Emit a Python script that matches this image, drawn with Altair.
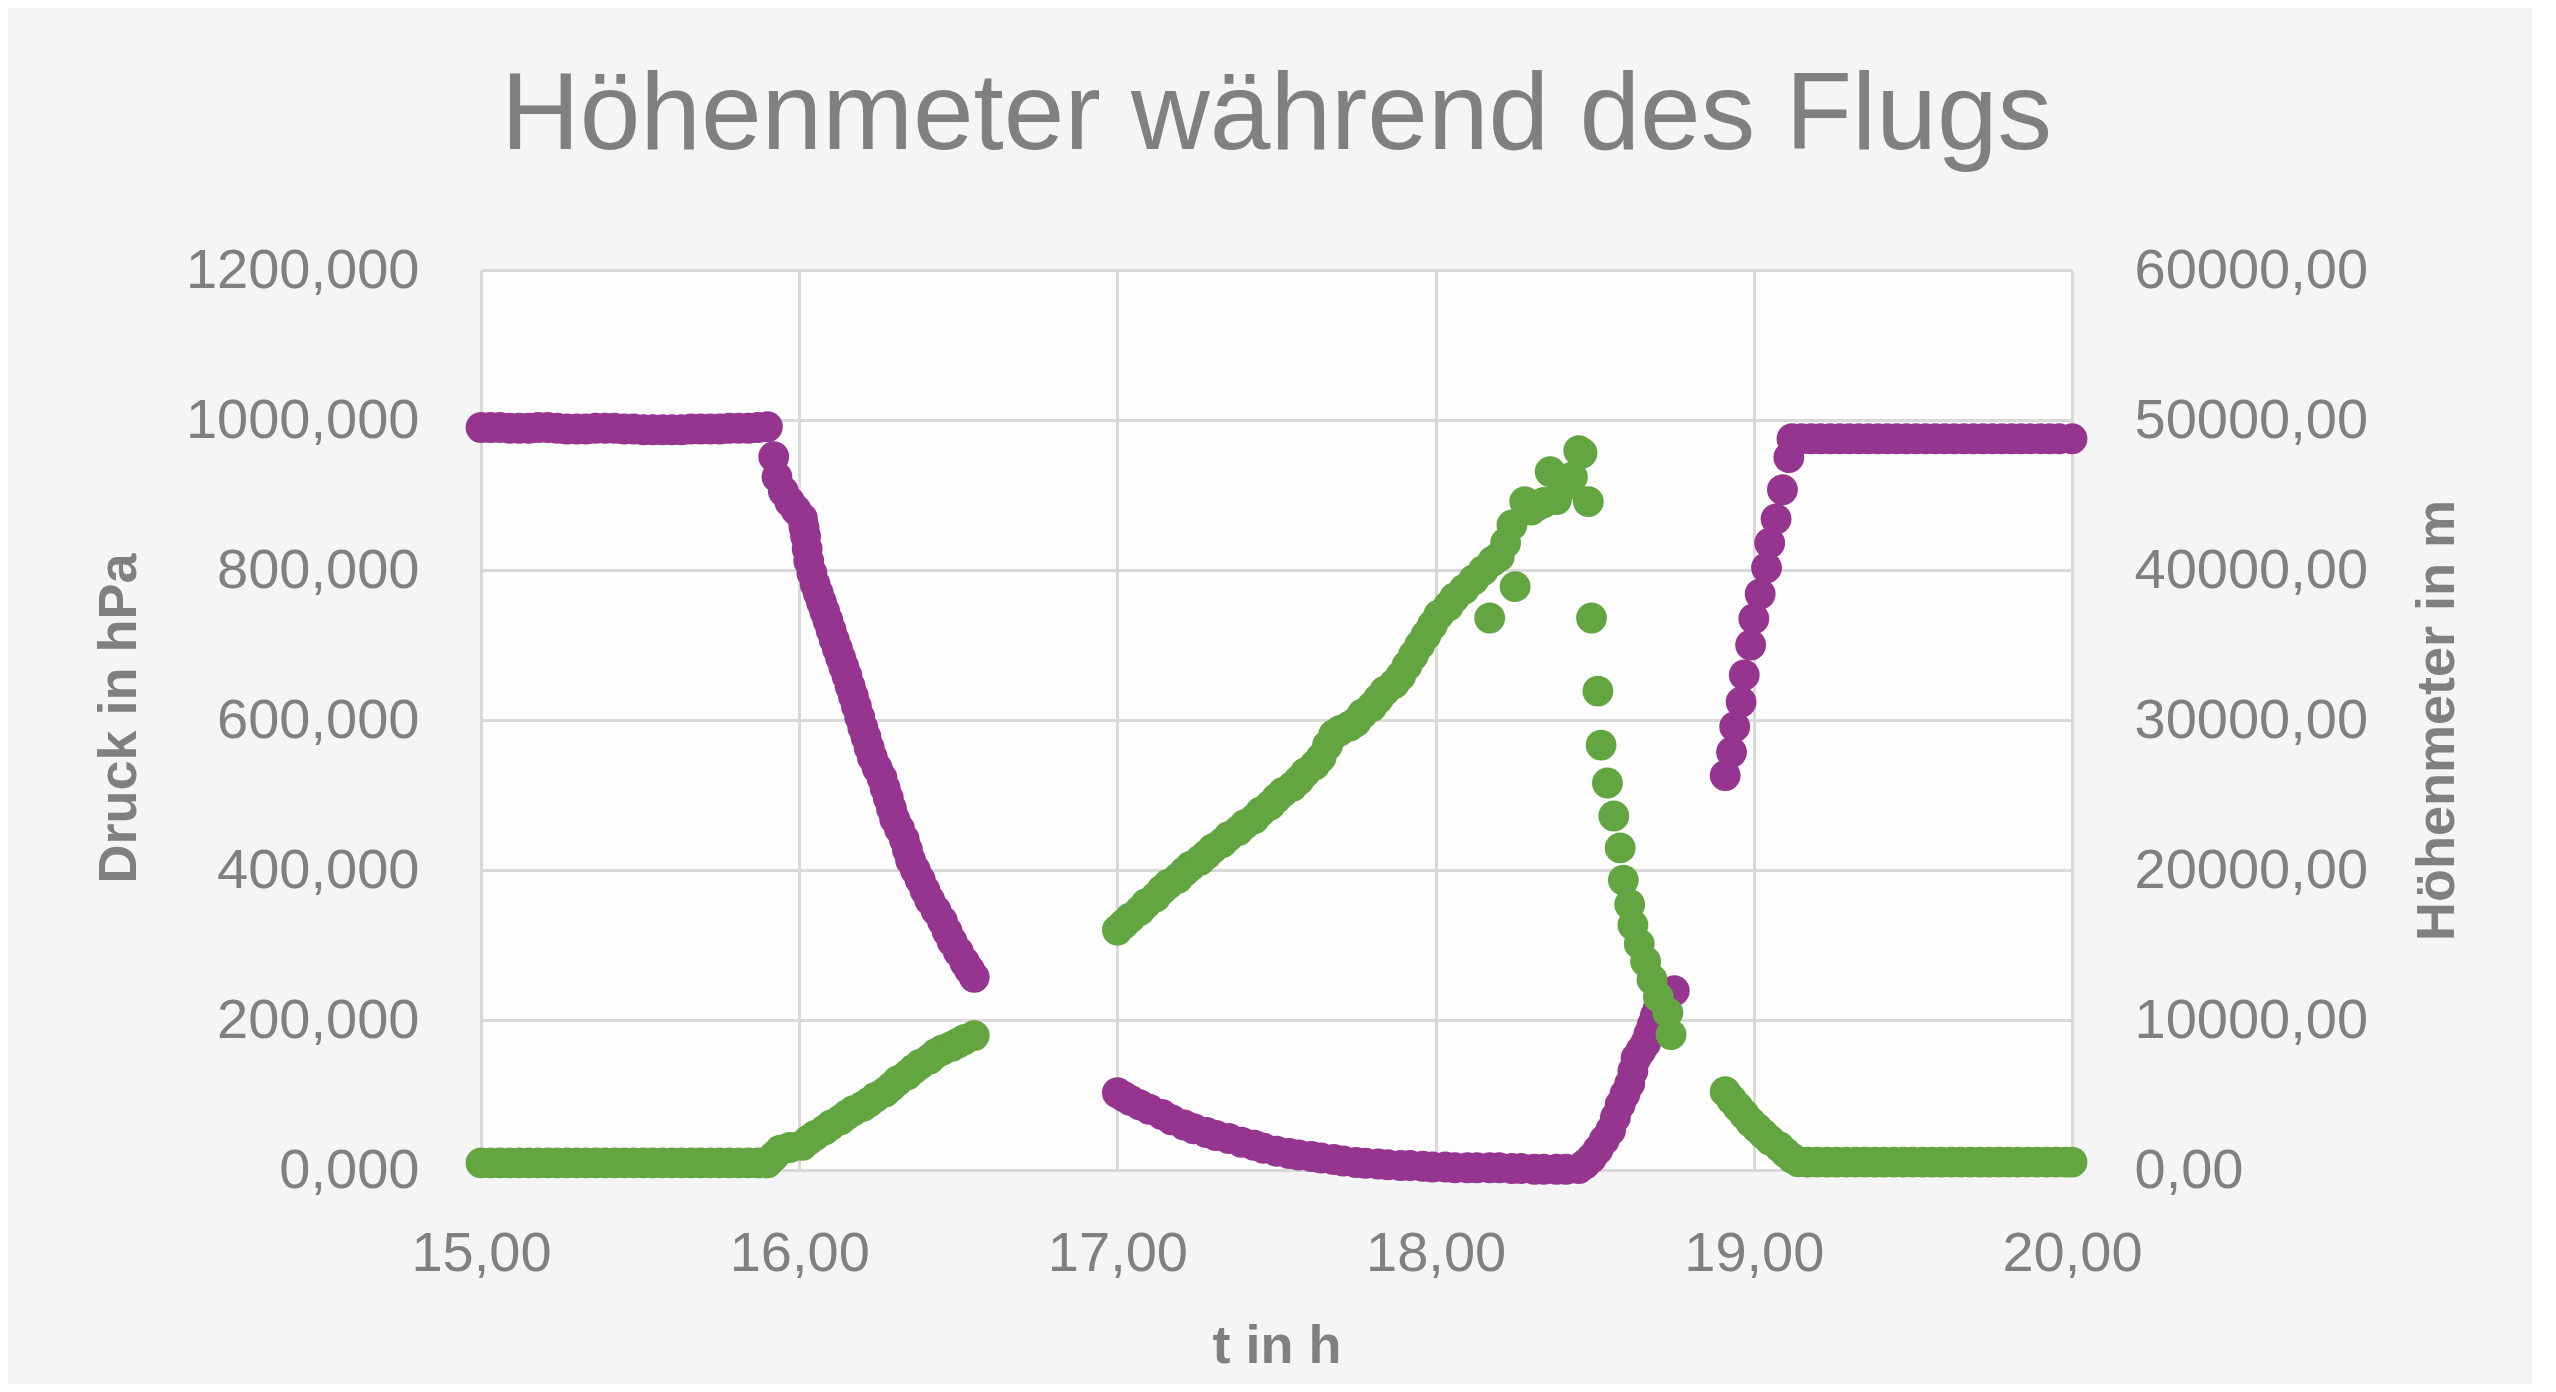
import altair as alt
import pandas as pd

# Druck (hPa) über der Zeit t (h)
druck = [
    (15.00, 990), (15.03, 990), (15.06, 990), (15.09, 989), (15.12, 989), (15.15, 989),
    (15.18, 990), (15.21, 990), (15.24, 989), (15.27, 988), (15.30, 988), (15.33, 988),
    (15.36, 989), (15.39, 989), (15.42, 989), (15.45, 988), (15.48, 988), (15.51, 987),
    (15.54, 987), (15.57, 987), (15.60, 987), (15.63, 987), (15.66, 988), (15.69, 988),
    (15.72, 988), (15.75, 988), (15.78, 989), (15.81, 989), (15.84, 989), (15.87, 990),
    (15.90, 991),
    (15.92, 951), (15.93, 924), (15.95, 905), (15.97, 891), (15.99, 880), (16.01, 869),
    (16.015, 857), (16.02, 845), (16.025, 828), (16.03, 812), (16.04, 796), (16.05, 781),
    (16.06, 769), (16.07, 757),
    (16.08, 745), (16.09, 733), (16.10, 720), (16.11, 707), (16.12, 695), (16.13, 683),
    (16.14, 671), (16.15, 659), (16.16, 645), (16.17, 632), (16.18, 618), (16.19, 604),
    (16.20, 590), (16.21, 577), (16.22, 563), (16.23, 550), (16.245, 536), (16.26, 523),
    (16.27, 509), (16.28, 496), (16.29, 482), (16.30, 468), (16.315, 455), (16.33, 441),
    (16.34, 427), (16.35, 413), (16.365, 400), (16.38, 387), (16.395, 373), (16.41, 360),
    (16.43, 346), (16.45, 332), (16.465, 318), (16.48, 305), (16.50, 291), (16.52, 277),
    (16.535, 267), (16.55, 257),
    (17.00, 103), (17.02, 98), (17.04, 93), (17.07, 87), (17.10, 81), (17.14, 74),
    (17.17, 67), (17.21, 60), (17.24, 55), (17.28, 50), (17.31, 46), (17.35, 42),
    (17.39, 37), (17.43, 33), (17.46, 29), (17.50, 25), (17.54, 22), (17.57, 20),
    (17.61, 18), (17.64, 16), (17.68, 14), (17.71, 12), (17.75, 10), (17.78, 9),
    (17.82, 8), (17.85, 7), (17.89, 6), (17.92, 6), (17.96, 5), (17.99, 4),
    (18.03, 4), (18.06, 3), (18.10, 3), (18.13, 3), (18.17, 3), (18.20, 3),
    (18.24, 2), (18.27, 2), (18.31, 1), (18.34, 1), (18.38, 1), (18.41, 1),
    (18.45, 2), (18.47, 8), (18.49, 16), (18.51, 27), (18.53, 40), (18.55, 53),
    (18.565, 70), (18.58, 87), (18.595, 101), (18.61, 115), (18.62, 132), (18.63, 149),
    (18.645, 159), (18.66, 169), (18.67, 181), (18.68, 193), (18.69, 205), (18.70, 216),
    (18.725, 228), (18.75, 239),
    (18.91, 526), (18.93, 557), (18.94, 591), (18.96, 624), (18.97, 660), (18.99, 700),
    (19.00, 735), (19.02, 768), (19.04, 803), (19.05, 836), (19.07, 868), (19.09, 907),
    (19.11, 950), (19.12, 975),
    (19.15, 975), (19.18, 975), (19.21, 975), (19.24, 975), (19.27, 975), (19.30, 975),
    (19.33, 975), (19.36, 975), (19.39, 975), (19.42, 975), (19.45, 975), (19.48, 975),
    (19.51, 975), (19.54, 975), (19.57, 975), (19.60, 975), (19.63, 975), (19.66, 975),
    (19.69, 975), (19.72, 975), (19.75, 975), (19.78, 975), (19.81, 975), (19.84, 975),
    (19.87, 975), (19.90, 975), (19.93, 975), (19.96, 975), (20.00, 975),
]

# Höhenmeter (m) über der Zeit t (h)
hoehe = [
    (15.00, 470), (15.03, 470), (15.06, 470), (15.09, 470), (15.12, 470), (15.15, 470),
    (15.18, 470), (15.21, 470), (15.24, 470), (15.27, 470), (15.30, 470), (15.33, 470),
    (15.36, 470), (15.39, 470), (15.42, 470), (15.45, 470), (15.48, 470), (15.51, 470),
    (15.54, 470), (15.57, 470), (15.60, 470), (15.63, 470), (15.66, 470), (15.69, 470),
    (15.72, 470), (15.75, 470), (15.78, 470), (15.81, 470), (15.84, 470), (15.87, 470),
    (15.90, 470),
    (15.92, 900), (15.94, 1330), (15.97, 1500), (16.01, 1650), (16.03, 2000), (16.05, 2300),
    (16.08, 2670), (16.10, 3000), (16.13, 3350), (16.15, 3670), (16.17, 3950), (16.20, 4250),
    (16.22, 4530), (16.24, 4850), (16.27, 5200), (16.29, 5560), (16.31, 5950), (16.34, 6350),
    (16.36, 6730), (16.38, 7050), (16.41, 7400), (16.43, 7770), (16.45, 8000), (16.48, 8250),
    (16.50, 8470), (16.52, 8700), (16.55, 8960),
    (17.00, 16000), (17.02, 16400), (17.04, 16800), (17.07, 17290), (17.09, 17750),
    (17.12, 18200), (17.14, 18670), (17.16, 19050), (17.19, 19450), (17.21, 19870),
    (17.23, 20250), (17.26, 20650), (17.28, 21030), (17.30, 21430), (17.33, 21830),
    (17.35, 22240), (17.38, 22630), (17.40, 23020), (17.43, 23410), (17.45, 23870),
    (17.48, 24320), (17.50, 24780), (17.52, 25180), (17.55, 25580), (17.57, 25970),
    (17.59, 26480), (17.62, 26990), (17.64, 27490), (17.66, 28300), (17.68, 29020),
    (17.70, 29300), (17.73, 29600), (17.75, 29880), (17.77, 30400), (17.80, 30900),
    (17.82, 31410), (17.84, 31920), (17.87, 32420), (17.89, 32930), (17.91, 33620),
    (17.93, 34300), (17.95, 34990), (17.97, 35650), (17.99, 36330), (18.01, 37010),
    (18.04, 37600), (18.06, 38160), (18.09, 38730), (18.12, 39350), (18.15, 39970),
    (18.17, 36800), (18.18, 40600), (18.20, 40890), (18.22, 41800), (18.24, 43000),
    (18.25, 38890), (18.28, 44560), (18.30, 44000), (18.32, 44300), (18.34, 44500),
    (18.36, 46550), (18.38, 44700), (18.40, 45500), (18.43, 46200), (18.45, 47950),
    (18.46, 47800), (18.48, 44560),
    (18.49, 36800), (18.51, 31930), (18.52, 28330), (18.54, 25800), (18.56, 23600),
    (18.58, 21470), (18.59, 19330), (18.61, 17700), (18.62, 16330), (18.64, 15070),
    (18.66, 13900), (18.68, 12700), (18.70, 11520), (18.73, 10490), (18.74, 9030),
    (18.91, 5220), (18.93, 4700), (18.95, 4200), (18.97, 3700), (18.99, 3200),
    (19.01, 2800), (19.03, 2400), (19.05, 2000), (19.08, 1550), (19.10, 1150),
    (19.12, 800), (19.14, 550),
    (19.17, 530), (19.20, 530), (19.23, 530), (19.26, 530), (19.29, 530), (19.32, 530),
    (19.35, 530), (19.38, 530), (19.41, 530), (19.44, 530), (19.47, 530), (19.50, 530),
    (19.53, 530), (19.56, 530), (19.59, 530), (19.62, 530), (19.65, 530), (19.68, 530),
    (19.71, 530), (19.74, 530), (19.77, 530), (19.80, 530), (19.83, 530), (19.86, 530),
    (19.89, 530), (19.92, 530), (19.95, 530), (19.98, 530), (20.00, 530),
]

x_ticks = [15, 16, 17, 18, 19, 20]
druck_ticks = [0, 200, 400, 600, 800, 1000, 1200]
hoehe_ticks = [0, 10000, 20000, 30000, 40000, 50000, 60000]

FONT = "Liberation Sans"
GRAU = "#808080"
LILA = "#95358F"
GRUEN = "#63A540"

df_p = pd.DataFrame(druck, columns=["t", "druck"])
df_h = pd.DataFrame(hoehe, columns=["t", "hoehe"])

x_enc = alt.X(
    "t:Q",
    title="t in h",
    scale=alt.Scale(domain=[15, 20], nice=False, zero=False),
    axis=alt.Axis(
        values=x_ticks,
        labelExpr="replace(format(datum.value, '.2f'), '.', ',')",
        labelFlush=False,
        labelPadding=56,
        titlePadding=38,
        grid=True,
    ),
)

p_chart = (
    alt.Chart(df_p)
    .mark_circle(size=950, opacity=1, color=LILA)
    .encode(
        x=x_enc,
        y=alt.Y(
            "druck:Q",
            title="Druck in hPa",
            scale=alt.Scale(domain=[0, 1200], nice=False),
            axis=alt.Axis(
                orient="left",
                values=druck_ticks,
                labelExpr="replace(format(datum.value, '.3f'), '.', ',')",
                labelPadding=62,
                titleX=-362,
                titleY=448,
                titleAngle=270,
                titleAlign="center",
                titleBaseline="middle",
                grid=True,
            ),
        ),
    )
)

h_chart = (
    alt.Chart(df_h)
    .mark_circle(size=950, opacity=1, color=GRUEN)
    .encode(
        x=x_enc,
        y=alt.Y(
            "hoehe:Q",
            title="Höhenmeter in m",
            scale=alt.Scale(domain=[0, 60000], nice=False),
            axis=alt.Axis(
                orient="right",
                values=hoehe_ticks,
                labelExpr="replace(format(datum.value, '.2f'), '.', ',')",
                labelPadding=62,
                titleX=365,
                titleY=450,
                titleAngle=270,
                titleAlign="center",
                titleBaseline="middle",
                grid=False,
            ),
        ),
    )
)

chart = (
    alt.layer(p_chart, h_chart)
    .resolve_scale(y="independent")
    .properties(
        width=1591,
        height=900,
        autosize=alt.AutoSizeParams(type="none"),
        padding={"left": 473, "top": 262, "right": 460, "bottom": 214},
        background="#f5f5f5",
        title=alt.TitleParams(
            "Höhenmeter während des Flugs",
            font=FONT,
            fontSize=109,
            fontWeight="normal",
            color=GRAU,
            anchor="middle",
            offset=70,
        ),
    )
    .configure_view(strokeWidth=0, fill="#fdfdfd")
    .configure_axis(
        domain=False,
        ticks=False,
        gridColor="#d9d9d9",
        gridWidth=3,
        labelFont=FONT,
        labelFontSize=56,
        labelColor=GRAU,
        labelLimit=500,
        titleFont=FONT,
        titleFontSize=54,
        titleFontWeight="bold",
        titleColor=GRAU,
    )
)

chart.save("out.html", embed_options={"renderer": "svg", "actions": False})
